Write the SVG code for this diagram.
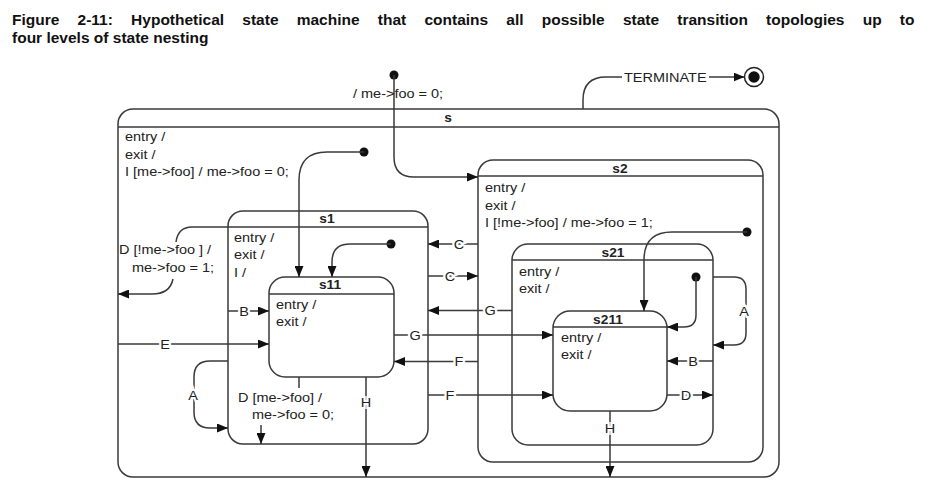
<svg xmlns="http://www.w3.org/2000/svg" width="934" height="490" viewBox="0 0 934 490">
<style>
  .st rect { fill: none; stroke: #3a3a3a; stroke-width: 1.5; }
  .st line { stroke: #3a3a3a; stroke-width: 1.5; }
  .t { font-family: "Liberation Sans", Arial, sans-serif; font-size: 12.5px; fill: #222; }
  .b { font-family: "Liberation Sans", Arial, sans-serif; font-size: 12.5px; font-weight: bold; fill: #222; text-anchor: middle; }
  .l { font-family: "Liberation Sans", Arial, sans-serif; font-size: 12.5px; fill: #222; text-anchor: middle; stroke: #fff; stroke-width: 4px; paint-order: stroke; }
  .c path { fill: none; stroke: #3a3a3a; stroke-width: 1.5; }
  .c .arr { marker-end: url(#ah); }
  .dot { fill: #111; }
  .title { font-family: "Liberation Sans", Arial, sans-serif; font-size: 15.5px; font-weight: bold; fill: #111; }
</style>
<defs>
  <marker id="ah" markerUnits="userSpaceOnUse" markerWidth="12" markerHeight="9" refX="11" refY="4.5" orient="auto">
    <path d="M0,0 L11,4.5 L0,9 z" fill="#111"/>
  </marker>
</defs>
<rect width="934" height="490" fill="#fff"/>
<text class="title" x="12" y="25" word-spacing="13.9">Figure 2-11: Hypothetical state machine that contains all possible state transition topologies up to</text>
<text class="title" x="12" y="43">four levels of state nesting</text>

<g id="s" class="st">
  <rect x="118" y="109" width="661" height="368" rx="15"/>
  <line x1="118" y1="127" x2="779" y2="127"/>
  <text class="b" transform="translate(448,122) scale(1.1 1)">s</text>
  <text class="t" transform="translate(125,141) scale(1.16 1)">entry /</text>
  <text class="t" transform="translate(125,158.5) scale(1.16 1)">exit /</text>
  <text class="t" transform="translate(125,176) scale(1.16 1)">I [me-&gt;foo] / me-&gt;foo = 0;</text>
</g>
<g id="s2" class="st">
  <rect x="478" y="160" width="285" height="302" rx="15"/>
  <line x1="478" y1="176" x2="763" y2="176"/>
  <text class="b" transform="translate(620,173) scale(1.1 1)">s2</text>
  <text class="t" transform="translate(485,192) scale(1.16 1)">entry /</text>
  <text class="t" transform="translate(485,209.5) scale(1.16 1)">exit /</text>
  <text class="t" transform="translate(485,227) scale(1.16 1)">I [!me-&gt;foo] / me-&gt;foo = 1;</text>
</g>
<g id="s21" class="st">
  <rect x="512" y="244" width="201" height="201" rx="16"/>
  <line x1="512" y1="260" x2="713" y2="260"/>
  <text class="b" transform="translate(613,257) scale(1.1 1)">s21</text>
  <text class="t" transform="translate(519,276) scale(1.16 1)">entry /</text>
  <text class="t" transform="translate(519,293) scale(1.16 1)">exit /</text>
</g>
<g id="s211" class="st">
  <rect x="553" y="311" width="114" height="100" rx="17"/>
  <line x1="553" y1="327" x2="667" y2="327"/>
  <text class="b" transform="translate(608,324) scale(1.1 1)">s211</text>
  <text class="t" transform="translate(561,342) scale(1.16 1)">entry /</text>
  <text class="t" transform="translate(561,359) scale(1.16 1)">exit /</text>
</g>
<g id="s1" class="st">
  <rect x="228" y="211" width="200" height="233" rx="15"/>
  <line x1="228" y1="227" x2="428" y2="227"/>
  <text class="b" transform="translate(327,223) scale(1.1 1)">s1</text>
  <text class="t" transform="translate(234,242) scale(1.16 1)">entry /</text>
  <text class="t" transform="translate(234,259) scale(1.16 1)">exit /</text>
  <text class="t" transform="translate(234,277) scale(1.16 1)">I /</text>
</g>
<g id="s11" class="st">
  <rect x="269" y="277" width="125" height="100" rx="16"/>
  <line x1="269" y1="294" x2="394" y2="294"/>
  <text class="b" transform="translate(330,289) scale(1.1 1)">s11</text>
  <text class="t" transform="translate(276,309) scale(1.16 1)">entry /</text>
  <text class="t" transform="translate(276,326) scale(1.16 1)">exit /</text>
</g>
<g id="final">
  <circle cx="754" cy="77" r="9.5" fill="#fff" stroke="#222" stroke-width="1.5"/>
  <circle cx="754" cy="77" r="5.7" fill="#111"/>
</g>

<g id="connectors" class="c">
  <circle class="dot" cx="394" cy="75" r="4.5"/>
  <path class="arr" d="M394,75 V157 Q394,177 414,177 H478"/>
  <text class="t" transform="translate(353,98) scale(1.16 1)">/ me-&gt;foo = 0;</text>
  <circle class="dot" cx="364" cy="152" r="4.5"/>
  <path class="arr" d="M364,152 H327 Q299,152 299,180 V277"/>
  <circle class="dot" cx="391" cy="244" r="4.5"/>
  <path class="arr" d="M391,244 H350 Q332,244 332,262 V277"/>
  <circle class="dot" cx="747" cy="232" r="4.5"/>
  <path class="arr" d="M747,232 H672 Q644,232 644,260 V311"/>
  <circle class="dot" cx="696" cy="277" r="4.5"/>
  <path class="arr" d="M696,277 V315 Q696,327 684,327 H667"/>
  <path d="M228,227 H192 Q178,227 176,242"/>
  <text class="t" transform="translate(119,254) scale(1.16 1)">D [!me-&gt;foo ] /</text>
  <text class="t" transform="translate(132,272) scale(1.16 1)">me-&gt;foo = 1;</text>
  <path class="arr" d="M173,279 Q170,294 152,294 H118"/>
  <path class="arr" d="M478,244 H428"/>
  <text class="l" transform="translate(459,248.5) scale(1.16 1)">C</text>
  <path class="arr" d="M428,276 H478"/>
  <text class="l" transform="translate(450,280.5) scale(1.16 1)">C</text>
  <path class="arr" d="M512,310.5 H428"/>
  <text class="l" transform="translate(490,315) scale(1.16 1)">G</text>
  <path class="arr" d="M394,335 H553"/>
  <text class="l" transform="translate(415,339.5) scale(1.16 1)">G</text>
  <path class="arr" d="M478,361.5 H394"/>
  <text class="l" transform="translate(459,366) scale(1.16 1)">F</text>
  <path class="arr" d="M428,395 H553"/>
  <text class="l" transform="translate(450,399.5) scale(1.16 1)">F</text>
  <path class="arr" d="M228,311 H269"/>
  <text class="l" transform="translate(244,315.5) scale(1.16 1)">B</text>
  <path class="arr" d="M713,361 H667"/>
  <text class="l" transform="translate(693,365.5) scale(1.16 1)">B</text>
  <path class="arr" d="M118,344 H269"/>
  <text class="l" transform="translate(165,348.5) scale(1.16 1)">E</text>
  <path class="arr" d="M667,395 H713"/>
  <text class="l" transform="translate(686,399.5) scale(1.16 1)">D</text>
  <path class="arr" d="M228,361 H210 Q194,361 194,377 V412 Q194,428 210,428 H228"/>
  <text class="l" transform="translate(193,399.5) scale(1.16 1)">A</text>
  <path class="arr" d="M713,277 H734 Q746,277 746,289 V333 Q746,345 734,345 H713"/>
  <text class="l" transform="translate(744,315.5) scale(1.16 1)">A</text>
  <path class="arr" d="M366,377 V477"/>
  <text class="l" transform="translate(366,406.5) scale(1.16 1)">H</text>
  <path class="arr" d="M610,411 V477"/>
  <text class="l" transform="translate(610,432.5) scale(1.16 1)">H</text>
  <path d="M299,377 V388"/>
  <text class="t" transform="translate(238,402) scale(1.16 1)">D [me-&gt;foo] /</text>
  <text class="t" transform="translate(252,419) scale(1.16 1)">me-&gt;foo = 0;</text>
  <path class="arr" d="M261,425 V444"/>
  <path d="M583,109 V100 Q583,77 606,77 H622"/>
  <text class="t" transform="translate(624,81.5) scale(1.16 1)">TERMINATE</text>
  <path class="arr" d="M709,77 H744.5"/>
</g>
</svg>
